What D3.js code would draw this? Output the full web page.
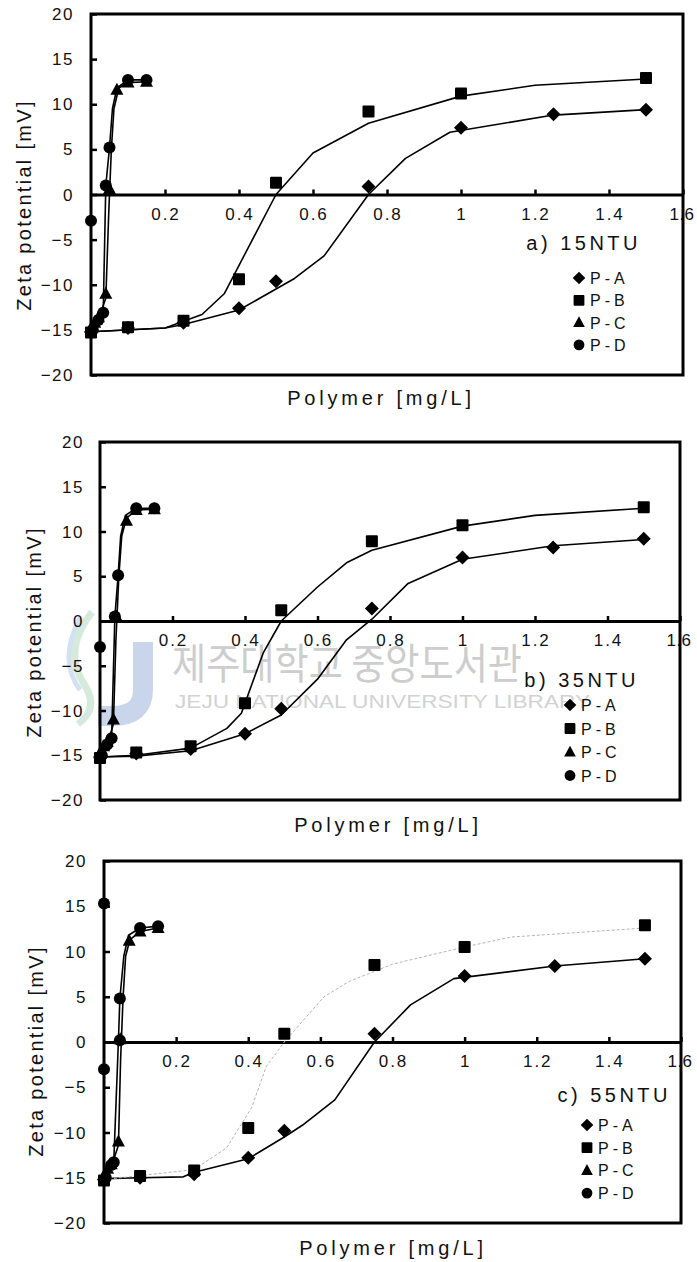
<!DOCTYPE html>
<html>
<head>
<meta charset="utf-8">
<script src="https://cdn.jsdelivr.net/npm/d3@7"></script>
<style>
  body { margin: 0; background: #fff; }
  svg { display: block; }
  text { font-family: "Liberation Sans", Arial, sans-serif; fill: #111; }
</style>
</head>
<body>
<svg id="chart" width="697" height="1262"></svg>
<script>
// ---- data ----
const seriesNames = ["P-A", "P-B", "P-C", "P-D"];
const panelLabels = ["a) 15NTU", "b) 35NTU", "c) 55NTU"];
const xTickValues = [0.2, 0.4, 0.6, 0.8, 1.0, 1.2, 1.4, 1.6];
const xTickLabels = ["0.2", "0.4", "0.6", "0.8", "1", "1.2", "1.4", "1.6"];
const yTickValues = [20, 15, 10, 5, 0, -5, -10, -15, -20];
const yTickLabels = ["20", "15", "10", "5", "0", "\u22125", "\u221210", "\u221215", "\u221220"];

// a) 15 NTU : measured points [dose, zeta]
const a_PA = [[0,-15.2],[0.1,-14.8],[0.25,-14.2],[0.4,-12.6],[0.5,-9.6],[0.75,0.9],[1.0,7.4],[1.25,8.9],[1.5,9.4]];
const a_PB = [[0,-15.3],[0.1,-14.7],[0.25,-14.0],[0.4,-9.4],[0.5,1.3],[0.75,9.2],[1.0,11.2],[1.5,12.9]];
const a_PC = [[0,-14.8],[0.01,-14.2],[0.02,-13.6],[0.04,-11.0],[0.05,0.6],[0.07,11.6],[0.1,12.4],[0.15,12.5]];
const a_PD = [[0,-2.9],[0.005,-15.0],[0.02,-13.9],[0.033,-13.1],[0.04,1.0],[0.05,5.2],[0.1,12.7],[0.15,12.7]];
// a) fitted curves (vertices traced from the plot)
const a_fitA = [[0,-15.2],[0.2,-14.8],[0.25,-14.4],[0.4,-12.8],[0.55,-9.3],[0.63,-6.8],[0.75,0],[0.85,4.0],[0.97,6.9],[1.25,8.8],[1.5,9.4]];
const a_fitB = [[0,-15.2],[0.2,-14.8],[0.3,-13.3],[0.36,-11.0],[0.5,0],[0.6,4.6],[0.75,7.9],[1.0,10.9],[1.2,12.1],[1.5,12.8]];
const a_fitC = [[0,-14.8],[0.02,-13.8],[0.04,-11.5],[0.048,-2.0],[0.055,5.0],[0.062,9.5],[0.075,11.8],[0.1,12.4],[0.15,12.5]];
const a_fitD = [[0.005,-15.0],[0.02,-14.0],[0.033,-13.1],[0.04,1.0],[0.05,5.2],[0.058,9.5],[0.07,11.8],[0.1,12.7],[0.15,12.7]];

// b) 35 NTU
const b_PA = [[0,-15.2],[0.1,-14.8],[0.25,-14.3],[0.4,-12.6],[0.5,-9.8],[0.75,1.4],[1.0,7.1],[1.25,8.2],[1.5,9.2]];
const b_PB = [[0,-15.3],[0.1,-14.7],[0.25,-14.0],[0.4,-9.2],[0.5,1.2],[0.75,8.9],[1.0,10.7],[1.5,12.7]];
const b_PC = [[0,-14.8],[0.01,-14.0],[0.02,-13.5],[0.037,-11.0],[0.045,0.5],[0.073,11.2],[0.1,12.4],[0.15,12.5]];
const b_PD = [[0,-2.9],[0.005,-15.0],[0.02,-13.8],[0.032,-13.1],[0.041,0.5],[0.05,5.1],[0.1,12.6],[0.15,12.6]];
const b_fitA = [[0,-15.2],[0.1,-15.1],[0.25,-14.5],[0.4,-12.6],[0.5,-10.5],[0.6,-6.5],[0.68,-2.1],[0.75,0.2],[0.85,4.2],[1.0,6.9],[1.25,8.4],[1.5,9.1]];
const b_fitB = [[0,-15.2],[0.1,-15.0],[0.25,-14.2],[0.35,-12.0],[0.39,-10.3],[0.45,-3.6],[0.5,0],[0.6,3.8],[0.68,6.5],[0.75,7.9],[1.0,10.6],[1.2,11.8],[1.5,12.6]];
const b_fitC = [[0,-14.8],[0.02,-13.8],[0.037,-11.5],[0.044,-2.0],[0.052,5.0],[0.06,9.5],[0.073,11.5],[0.1,12.4],[0.15,12.5]];
const b_fitD = [[0.005,-15.0],[0.02,-14.0],[0.032,-13.1],[0.041,0.5],[0.05,5.1],[0.057,9.5],[0.07,11.8],[0.1,12.6],[0.15,12.6]];

// c) 55 NTU
const c_PA = [[0,-15.2],[0.1,-15.0],[0.25,-14.6],[0.4,-12.8],[0.5,-9.8],[0.75,0.9],[1.0,7.3],[1.25,8.4],[1.5,9.2]];
const c_PB = [[0,-15.3],[0.1,-14.8],[0.25,-14.2],[0.4,-9.5],[0.5,0.9],[0.75,8.5],[1.0,10.5],[1.5,12.9]];
const c_PC = [[0,-14.8],[0.01,-14.0],[0.02,-13.5],[0.04,-11.0],[0.045,0.3],[0.07,11.2],[0.1,12.2],[0.15,12.6]];
const c_PD = [[0,15.3],[0,-3.0],[0.005,-15.0],[0.02,-13.6],[0.027,-13.3],[0.044,0.2],[0.044,4.8],[0.1,12.6],[0.15,12.8]];
const c_fitA = [[0,-15.1],[0.1,-15.0],[0.22,-14.9],[0.25,-14.4],[0.4,-12.9],[0.5,-10.5],[0.55,-9.2],[0.64,-6.4],[0.75,0],[0.85,4.1],[0.97,7.0],[1.25,8.4],[1.5,9.2]];
const c_fitB = [[0,-15.2],[0.25,-14.1],[0.34,-11.7],[0.41,-7.2],[0.45,-2.7],[0.5,0],[0.61,5.0],[0.68,6.7],[0.8,8.6],[1.0,10.5],[1.13,11.6],[1.5,12.6]];
const c_fitC = [[0,-14.8],[0.02,-13.8],[0.04,-11.4],[0.046,-2.0],[0.053,5.0],[0.06,9.5],[0.072,11.3],[0.1,12.2],[0.15,12.6]];
const c_fitD = [[0.005,-15.0],[0.02,-13.9],[0.027,-13.3],[0.04,0.2],[0.044,4.8],[0.055,9.5],[0.068,11.8],[0.1,12.6],[0.15,12.8]];

// ---- layout of the three stacked panels ----
const panels = [
  { label: panelLabels[0], points: [a_PA, a_PB, a_PC, a_PD], fits: [a_fitA, a_fitB, a_fitC, a_fitD],
    l: 91, r: 683, t: 14, b: 375, yLabX: 24, yLabY: 205, tickLabR: 73,
    titleR: 638, titleY: 250, legX: 579, legY: 278, legStep: 22.3, xLabX: 381, xLabY: 405, faintB: false, watermark: false },
  { label: panelLabels[1], points: [b_PA, b_PB, b_PC, b_PD], fits: [b_fitA, b_fitB, b_fitC, b_fitD],
    l: 100, r: 680, t: 442, b: 800, yLabX: 34, yLabY: 632, tickLabR: 83,
    titleR: 636, titleY: 687, legX: 570, legY: 705, legStep: 23.5, xLabX: 388, xLabY: 832, faintB: false, watermark: true },
  { label: panelLabels[2], points: [c_PA, c_PB, c_PC, c_PD], fits: [c_fitA, c_fitB, c_fitC, c_fitD],
    l: 104, r: 681, t: 861, b: 1223, yLabX: 36, yLabY: 1051, tickLabR: 86,
    titleR: 668, titleY: 1102, legX: 587, legY: 1125, legStep: 22.7, xLabX: 393, xLabY: 1255, faintB: true, watermark: false }
];

const svg = d3.select("#chart");
svg.append("rect").attr("width", 697).attr("height", 1262).attr("fill", "#fff");

// marker shapes: diamond, square, triangle, circle
function drawMarker(g, i, cx, cy, s) {
  s = s || 1;
  if (i === 0) {
    g.append("path").attr("d", `M${cx},${cy - 7 * s}L${cx + 7 * s},${cy}L${cx},${cy + 7 * s}L${cx - 7 * s},${cy}Z`).attr("fill", "#000");
  } else if (i === 1) {
    g.append("rect").attr("x", cx - 6 * s).attr("y", cy - 6 * s).attr("width", 12 * s).attr("height", 12 * s)
      .attr("rx", 1).attr("fill", "#000");
  } else if (i === 2) {
    g.append("path").attr("d", `M${cx},${cy - 7 * s}L${cx + 6.5 * s},${cy + 5 * s}L${cx - 6.5 * s},${cy + 5 * s}Z`).attr("fill", "#000");
  } else {
    g.append("circle").attr("cx", cx).attr("cy", cy).attr("r", 6 * s).attr("fill", "#000");
  }
}

function drawWatermark(g) {
  g.append("path").attr("d", "M92,612 Q62,650 84,684 Q100,708 78,724")
    .attr("fill", "none").attr("stroke", "#d5eadb").attr("stroke-width", 7);
  g.append("path").attr("d", "M80,618 Q58,660 80,690")
    .attr("fill", "none").attr("stroke", "#d2e2f2").attr("stroke-width", 5);
  g.append("path").attr("d", "M143,642 L143,690 Q143,716 112,716 L98,716")
    .attr("fill", "none").attr("stroke", "#c8d5ea").attr("stroke-width", 20);
  g.append("text").attr("x", 172).attr("y", 679)
    .attr("textLength", 350).attr("lengthAdjust", "spacingAndGlyphs")
    .style("font-family", "'Noto Sans CJK KR', sans-serif").style("font-size", "42px")
    .style("fill", "#cdcdcd").text("제주대학교 중앙도서관");
  g.append("text").attr("x", 175).attr("y", 708)
    .attr("textLength", 415).attr("lengthAdjust", "spacingAndGlyphs")
    .style("font-size", "18px").style("fill", "#d2d2d2").text("JEJU NATIONAL UNIVERSITY LIBRARY");
}

panels.forEach(p => {
  const x = d3.scaleLinear().domain([0, 1.6]).range([p.l, p.r]);
  const y = d3.scaleLinear().domain([-20, 20]).range([p.b, p.t]);
  const g = svg.append("g");

  if (p.watermark) drawWatermark(g);

  // zero line with small upward ticks
  const xAxis = d3.axisTop(x).tickValues(xTickValues).tickSize(5).tickSizeOuter(0).tickFormat("");
  const xg = g.append("g").attr("transform", `translate(0,${y(0)})`).call(xAxis);
  xg.select(".domain").attr("stroke", "#000").attr("stroke-width", 3);
  xg.selectAll(".tick line").attr("stroke", "#000").attr("stroke-width", 2.5);

  // left axis ticks pointing inside
  const yAxis = d3.axisRight(y).tickValues(yTickValues).tickSize(6).tickSizeOuter(0).tickFormat("");
  const yg = g.append("g").attr("transform", `translate(${p.l},0)`).call(yAxis);
  yg.select(".domain").remove();
  yg.selectAll(".tick line").attr("stroke", "#000").attr("stroke-width", 2.5);

  // x tick labels sit under the zero line
  g.selectAll(".xlab").data(xTickValues).enter().append("text")
    .attr("x", (d, i) => x(d) + (i === xTickValues.length - 1 ? -1 : 1)).attr("y", y(0) + 25)
    .attr("text-anchor", "middle")
    .style("font-size", "17px").style("letter-spacing", (d, i) => i === xTickValues.length - 1 ? "0.5px" : "2px")
    .text((d, i) => xTickLabels[i]);

  // frame, drawn over the last tick label like in the scan
  g.append("rect").attr("x", p.l).attr("y", p.t).attr("width", p.r - p.l).attr("height", p.b - p.t)
    .attr("fill", "none").attr("stroke", "#000").attr("stroke-width", 3);

  // y tick labels
  g.selectAll(".ylab").data(yTickValues).enter().append("text")
    .attr("x", p.tickLabR + 1).attr("y", d => y(d) + 6)
    .attr("text-anchor", "end")
    .style("font-size", "17px").style("letter-spacing", "1.5px")
    .text((d, i) => yTickLabels[i]);

  // fitted curves
  const line = d3.line().x(d => x(d[0])).y(d => y(d[1]));
  p.fits.forEach((f, i) => {
    const faint = p.faintB && i === 1;
    g.append("path").datum(f).attr("d", line)
      .attr("fill", "none")
      .attr("stroke", faint ? "#b4b4b4" : "#000")
      .attr("stroke-width", faint ? 1 : 1.6)
      .attr("stroke-linejoin", "round")
      .attr("stroke-dasharray", faint ? "3,2" : null);
  });

  // measured points
  p.points.forEach((pts, i) => {
    pts.forEach(d => drawMarker(g, i, x(d[0]), y(d[1])));
  });

  // panel title
  g.append("text").attr("x", p.titleR + 3).attr("y", p.titleY)
    .attr("text-anchor", "end")
    .style("font-size", "20px").style("letter-spacing", "3.5px")
    .text(p.label);

  // legend
  seriesNames.forEach((name, i) => {
    const ly = p.legY + i * p.legStep;
    drawMarker(g, i, p.legX, ly, 0.9);
    g.append("text").attr("x", p.legX + 11).attr("y", ly + 6)
      .style("font-size", "16px").style("letter-spacing", "4px")
      .text(name);
  });

  // axis titles
  g.append("text").attr("transform", `translate(${p.yLabX + 7},${p.yLabY}) rotate(-90)`)
    .attr("text-anchor", "middle")
    .style("font-size", "20px").style("letter-spacing", "2.3px")
    .text("Zeta potential [mV]");
  g.append("text").attr("x", p.xLabX).attr("y", p.xLabY)
    .attr("text-anchor", "middle")
    .style("font-size", "20px").style("letter-spacing", "3.8px")
    .text("Polymer [mg/L]");
});
</script>
</body>
</html>
